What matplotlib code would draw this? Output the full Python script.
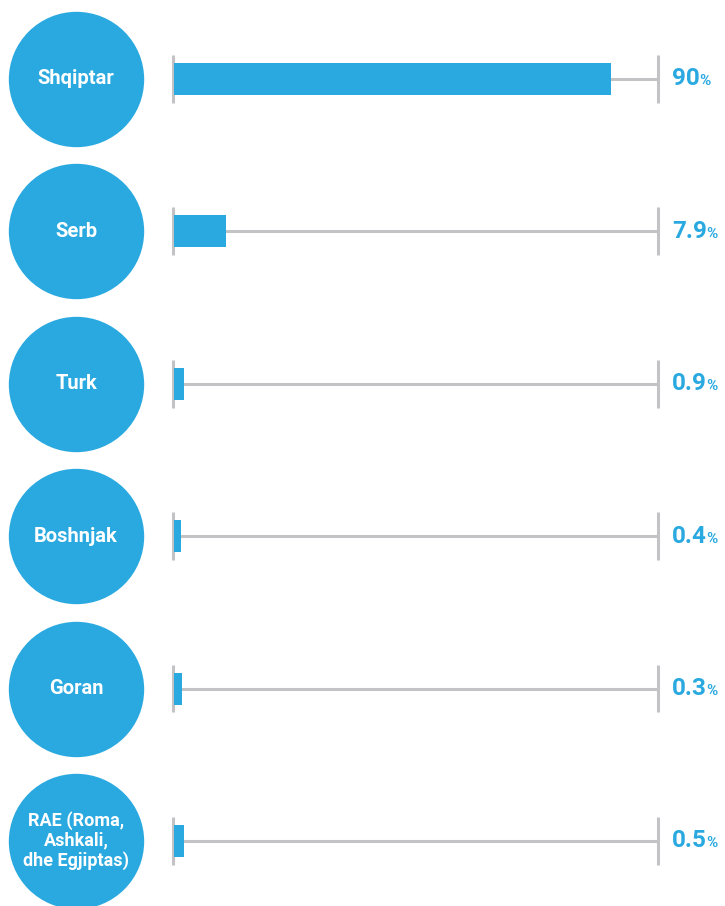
import matplotlib
matplotlib.use("Agg")
import matplotlib.pyplot as plt
import warnings
warnings.filterwarnings("ignore")

groups = ["Shqiptar", "Serb", "Turk", "Boshnjak", "Goran", "RAE (Roma,\nAshkali,\ndhe Egjiptas)"]
share_labels = ["90", "7.9", "0.9", "0.4", "0.3", "0.5"]
bar_lengths = [90, 10.6, 2.0, 1.3, 1.5, 2.0]   # drawn bar lengths (% of track)

BLUE = "#29a9e0"
GRAY = "#c3c3c6"
FONT = ["Roboto", "DejaVu Sans"]

fig = plt.figure(figsize=(7.25, 9.06), dpi=100)
ax = fig.add_axes([0, 0, 1, 1])
ax.set_xlim(-35.8, 113.8)
ax.set_ylim(5.427, -0.518)
ax.axis("off")

for i, (g, lab, bl) in enumerate(zip(groups, share_labels, bar_lengths)):
    # circle with group name
    ax.scatter([-20.1], [i], s=9500, color=BLUE, zorder=1, linewidths=0)
    fs = 14.5 if "\n" not in g else 13
    ax.text(-20.1, i, g, ha="center", va="center", color="white", fontsize=fs,
            fontweight="bold", family=FONT, linespacing=1.1, zorder=2)
    # track
    ax.plot([0, 100], [i, i], color=GRAY, lw=2.2, solid_capstyle="butt", zorder=1)
    ax.plot([0, 0], [i - 0.157, i + 0.157], color=GRAY, lw=2.2, solid_capstyle="butt", zorder=1)
    ax.plot([100, 100], [i - 0.157, i + 0.157], color=GRAY, lw=2.2, solid_capstyle="butt", zorder=1)
    ax.barh(i, bl, left=0.2, height=0.21, color=BLUE, zorder=3)
    # value label
    t = ax.text(102.9, i, lab, ha="left", va="center", color=BLUE, fontsize=17.5,
                fontweight="bold", family=FONT)
    ax.annotate("%", xycoords=t, xy=(1, 0), xytext=(-0.5, 1.5), textcoords="offset points",
                ha="left", va="bottom", color=BLUE, fontsize=11, fontweight="bold", family=FONT)

fig.savefig("out.png", dpi=100)
